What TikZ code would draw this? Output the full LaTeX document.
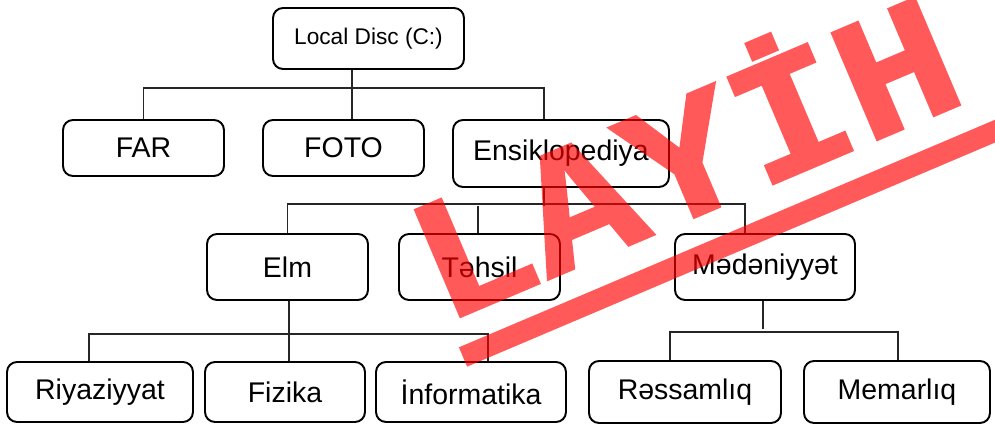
\documentclass[tikz,border=0pt]{standalone}
\usepackage{fontspec}
\setmainfont{Liberation Sans}
\newfontfamily\stampfont{Liberation Mono}[FakeBold=1.5]
\usetikzlibrary{calc}

\begin{document}
\begin{tikzpicture}[
  x=0.02cm, y=-0.02cm,
  folder/.style={draw, rounded corners=0.2cm, line width=1.1pt, fill=white, inner sep=0pt, minimum width=3.22cm, minimum height=1.12cm, font=\fontsize{16.2}{18}\selectfont},
  link/.style={line width=1.1pt, black!85},
  heavylink/.style={line width=1.7pt, black!85},
  stamp/.style={red},
]
\clip (0,0) rectangle (995,425);
\node[folder, minimum width=3.82cm, minimum height=1.22cm, font=\fontsize{12.9}{15}\selectfont] (root) at (368.5,38.5) {Local Disc (C:)};
\node[folder] (far) at (143.5,148) {FAR};
\node[folder] (foto) at (343.5,148) {FOTO};
\node[folder, minimum width=4.32cm, minimum height=1.34cm] (ensik) at (561,153.5) {Ensiklopediya};
\node[folder, minimum height=1.32cm] (elm) at (287.5,267) {Elm};
\node[folder, minimum height=1.32cm] (tehsil) at (479.5,267) {Təhsil};
\node[folder, minimum width=3.6cm, minimum height=1.32cm] (medeniyyet) at (765,267) {Mədəniyyət};
\node[folder, minimum width=3.72cm, minimum height=1.2cm] (riyaz) at (100,392) {Riyaziyyat};
\node[folder, minimum width=3.2cm, minimum height=1.2cm] (fizika) at (285,392) {Fizika};
\node[folder, minimum width=3.8cm, minimum height=1.2cm] (inform) at (471,392) {İnformatika};
\node[folder, minimum width=3.84cm, minimum height=1.24cm] (ressam) at (685,392) {Rəssamlıq};
\node[folder, minimum width=3.72cm, minimum height=1.24cm] (memar) at (897,392) {Memarlıq};

\coordinate (rootdrop) at ($(root.south)+(-16.5,0)$);
\draw[link] (rootdrop) -- (rootdrop |- foto.north);
\draw[link] (far.north) -- ++(0,-31) -| ($(ensik.north)+(-17,0)$);

\coordinate (ensikdrop) at ($(ensik.south)+(-17,0)$);
\draw[link] (ensikdrop) -- ++(0,18);
\draw[link] (elm.north) -- ++(0,-29) -| ($(medeniyyet.north)+(-20,0)$);
\draw[heavylink] ($(tehsil.north)+(-1.5,0)$) -- ++(0,-27);

\coordinate (elmdrop) at ($(elm.south)+(1.5,0)$);
\draw[link] (elmdrop) -- (elmdrop |- fizika.north);
\draw[link] ($(riyaz.north)+(-11,0)$) -- ++(0,-27) -| ($(inform.north)+(17,0)$);

\draw[heavylink] ($(medeniyyet.south)+(-2,0)$) -- ++(0,28);
\draw[link] ($(ressam.north)+(-15,0)$) -- ++(0,-28) -| ($(memar.north)+(1,0)$);

\begin{scope}[transparency group, opacity=0.65]
\node[stamp, rotate=23, xscale=1.09, anchor=base, inner sep=0pt, font=\stampfont\bfseries\fontsize{100}{100}\selectfont] (wm) at (707,212) {LAYİH};
\coordinate (barstart) at (463,357);
\draw[stamp, line width=0.42cm] (barstart) -- ++(-23:640);
\end{scope}
\end{tikzpicture}
\end{document}
